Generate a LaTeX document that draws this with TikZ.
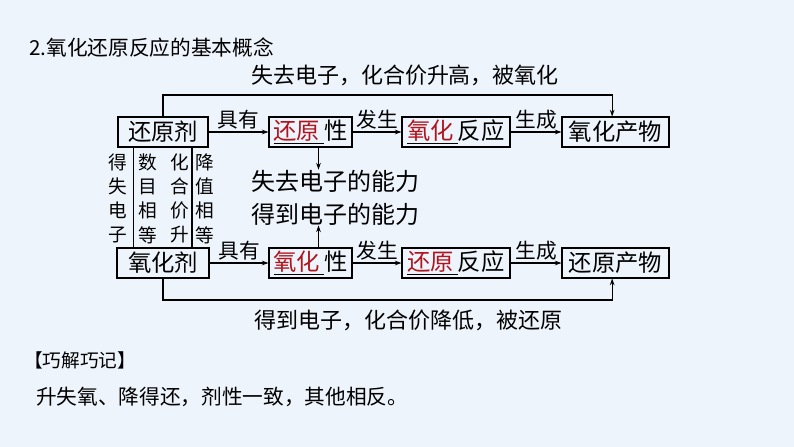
\documentclass[tikz,border=0pt]{standalone}
\usepackage{fontspec}
\setmainfont{Noto Sans CJK SC}
\usepackage{xcolor}
\usetikzlibrary{arrows.meta,positioning}
\definecolor{PageBlue}{HTML}{EEF4FC}
\definecolor{KeyRed}{HTML}{B0141C}
\newcommand{\keyword}[1]{\underline{\textcolor{KeyRed}{#1}\,}}
\tikzset{
  box/.style   = {draw, line width=0.8pt, inner sep=0pt, minimum height=22.5pt,
                  font=\fontsize{17.5}{19}\selectfont},
  flow/.style  = {-{Stealth[length=5pt,width=3.5pt]}, line width=0.8pt},
  verb/.style  = {above, inner sep=1.5pt, font=\fontsize{15.5}{17}\selectfont},
  col/.style   = {align=center, inner sep=0pt, font=\fontsize{14}{18.2}\selectfont},
  note/.style  = {inner sep=0pt, font=\fontsize{16.5}{18}\selectfont},
  ability/.style = {inner sep=0pt, font=\fontsize{18}{20}\selectfont},
}
\begin{document}
\begin{tikzpicture}[x=0.75pt,y=-0.75pt]

  \fill[PageBlue] (0,0) rectangle (794,447);
  \useasboundingbox (0,0) rectangle (794,447);

  \node[anchor=west, inner sep=0pt, font=\fontsize{15.5}{17}\selectfont] (title) at (29,48)
    {2.氧化还原反应的基本概念};

  % upper row
  \node[box, minimum width=67.5pt]  (rAgent) at (163,132)   {还原剂};
  \node[box, minimum width=62.25pt] (rProp)  at (310.5,132) {\keyword{还原}性};
  \node[box, minimum width=81pt]    (oReact) at (456,132)   {\keyword{氧化}反应};
  \node[box, minimum width=80.25pt] (oProd)  at (615.5,132) {氧化产物};

  % lower row
  \node[box, minimum width=69pt]    (oAgent) at (163,263)   {氧化剂};
  \node[box, minimum width=62.25pt] (oProp)  at (310.5,263) {\keyword{氧化}性};
  \node[box, minimum width=81pt]    (rReact) at (456,263)   {\keyword{还原}反应};
  \node[box, minimum width=80.25pt] (rProd)  at (615.5,263) {还原产物};

  \draw[flow] (rAgent) -- node[verb] {具有} (rProp);
  \draw[flow] (rProp)  -- node[verb] {发生} (oReact);
  \draw[flow] (oReact) -- node[verb] {生成} (oProd);

  \draw[flow] (oAgent) -- node[verb] {具有} (oProp);
  \draw[flow] (oProp)  -- node[verb] {发生} (rReact);
  \draw[flow] (rReact) -- node[verb] {生成} (rProd);

  % electron transfer paths
  \coordinate (topRun) at (390,95);
  \coordinate (lowRun) at (390,300);
  \draw[flow] (rAgent.north) |- (topRun) -| ([xshift=-2.5pt]oProd.north);
  \draw[flow] (oAgent.south) |- (lowRun) -| ([xshift=-2.5pt]rProd.south);
  \node[note] (lose) at (405,75)  {失去电子，化合价升高，被氧化};
  \node[note] (gain) at (408,320) {得到电子，化合价降低，被还原};

  % abilities
  \node[ability] (loseAb) at (335,181) {失去电子的能力};
  \node[ability] (gainAb) at (335,214) {得到电子的能力};
  \draw[flow] ([xshift=6pt]rProp.south) -- ([xshift=6pt]rProp.south |- loseAb.north);
  \draw[flow] ([xshift=6pt]oProp.north) -- ([xshift=6pt]oProp.north |- gainAb.south);

  % equal quantities between the agents
  \coordinate (colL) at (133.5,0);
  \coordinate (colR) at (192,0);
  \draw[line width=0.8pt] (rAgent.south -| colL) -- (oAgent.north -| colL);
  \draw[line width=0.8pt] (rAgent.south -| colR) -- (oAgent.north -| colR);
  \node[col] (c1) at (118,198.5) {得\\失\\电\\子};
  \node[col] (c2) at (148,198.5) {数\\目\\相\\等};
  \node[col] (c3) at (180,198.5) {化\\合\\价\\升};
  \node[col] (c4) at (205,198.5) {降\\值\\相\\等};

  % memory aid
  \node[anchor=west, inner sep=0pt, font=\fontsize{14}{16}\selectfont] (tipHead) at (24,360)
    {【巧解巧记】};
  \node[anchor=west, inner sep=0pt, font=\fontsize{15.5}{17}\selectfont] (tipText) at (36,397)
    {升失氧、降得还，剂性一致，其他相反。};

\end{tikzpicture}
\end{document}
